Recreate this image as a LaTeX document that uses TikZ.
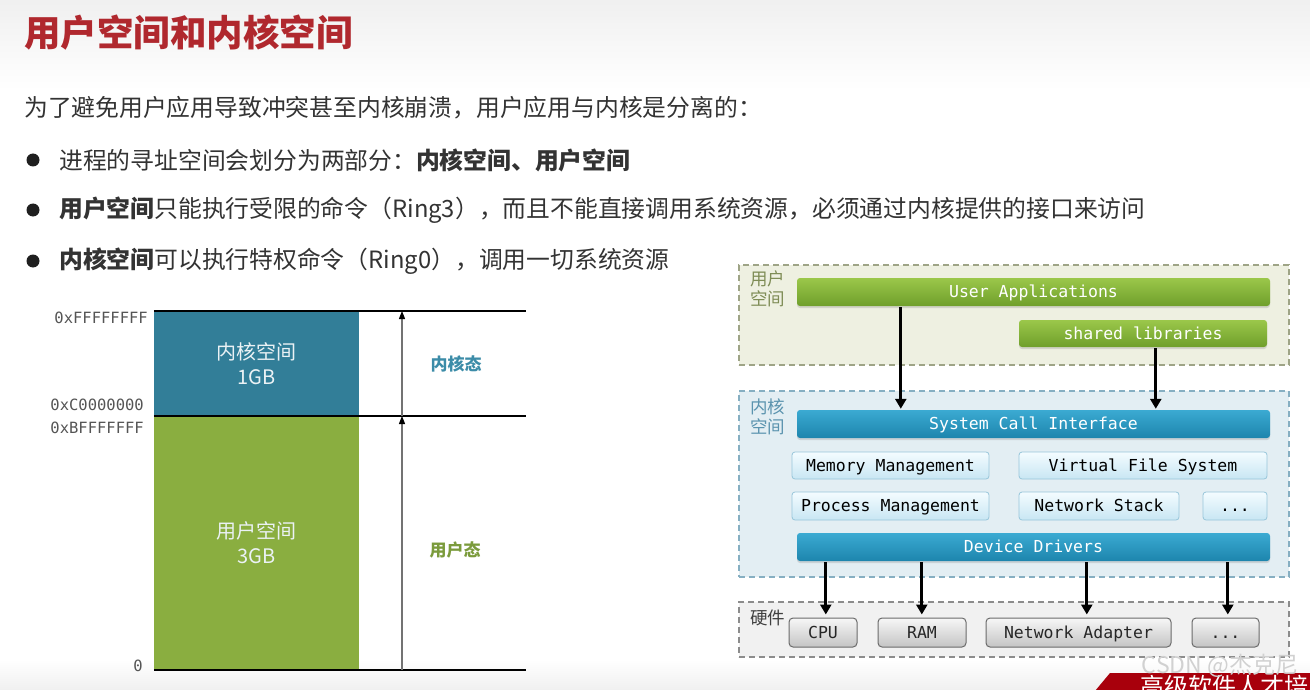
\documentclass[tikz,border=0pt]{standalone}
\usepackage{fontspec}
\setmainfont{Noto Sans CJK SC}
\newfontfamily\monof{DejaVu Sans Mono}
\usetikzlibrary{arrows.meta,shadows}
\definecolor{titlered}{HTML}{B0282E}
\definecolor{bodytext}{HTML}{333333}
\definecolor{kcol}{HTML}{327E98}
\definecolor{ucol}{HTML}{8AAE40}
\definecolor{kstatecol}{HTML}{3C8CA8}
\definecolor{ustatecol}{HTML}{7B9B3C}
\definecolor{addrcol}{HTML}{555555}
\definecolor{uregfill}{HTML}{EEF0E1}
\definecolor{uregdraw}{HTML}{9EA486}
\definecolor{kregfill}{HTML}{E3EEF3}
\definecolor{kregdraw}{HTML}{86AFC2}
\definecolor{hregfill}{HTML}{F1F1F1}
\definecolor{hregdraw}{HTML}{8C8C8C}
\definecolor{gtop}{HTML}{9BC74A}
\definecolor{gbot}{HTML}{6F9F2B}
\definecolor{btop}{HTML}{3BAAD2}
\definecolor{bbot}{HTML}{1D85AD}
\definecolor{ltop}{HTML}{F4FCFF}
\definecolor{lbot}{HTML}{C8E6F3}
\definecolor{ldraw}{HTML}{98C6DA}
\definecolor{htop}{HTML}{F7F7F7}
\definecolor{hbot}{HTML}{C4C4C4}
\definecolor{hdraw}{HTML}{6B6B6B}
\definecolor{ulabcol}{HTML}{7E8C55}
\definecolor{klabcol}{HTML}{5A93AE}
\definecolor{bannerred}{HTML}{A8000C}
\begin{document}
\begin{tikzpicture}[x=1pt,y=-1pt,
  bodyfont/.style={font=\fontsize{23.8}{28}\selectfont, text=bodytext, anchor=west, inner sep=0pt},
  bulletdot/.style={circle, fill=black!88, minimum size=13pt, inner sep=0pt},
  memblock/.style={draw=none, inner sep=0pt, align=center, text=white!90!kcol,
    font=\fontsize{20}{25}\selectfont},
  addr/.style={font=\monof\fontsize{15.5}{18}\selectfont, text=addrcol, anchor=east, inner sep=0pt},
  sepline/.style={line width=2pt, black},
  garr/.style={draw=black!55, line width=1.3pt, -{Triangle[length=8pt,width=6pt,color=black]}},
  region/.style={dash pattern=on 6pt off 4pt, line width=1.2pt, inner sep=0pt},
  reglab/.style={font=\fontsize{17.5}{20}\selectfont, align=left, inner sep=0pt},
  monotext/.style={font=\monof\fontsize{16.5}{20}\selectfont, text height=13pt, text depth=2pt, inner sep=0pt},
  greenbar/.style={monotext, rounded corners=3pt, top color=gtop, bottom color=gbot, text=white,
    drop shadow={shadow xshift=0pt, shadow yshift=-2pt, opacity=0.25}},
  bluebar/.style={monotext, rounded corners=3pt, top color=btop, bottom color=bbot, text=white,
    drop shadow={shadow xshift=0pt, shadow yshift=-2pt, opacity=0.25}},
  lightbox/.style={monotext, rounded corners=3pt, top color=ltop, bottom color=lbot, draw=ldraw, line width=0.8pt, text=black},
  hwbox/.style={monotext, rounded corners=4pt, top color=htop, bottom color=hbot, draw=hdraw, line width=1pt, text=black!85},
  karr/.style={line width=3pt, black, -{Triangle[length=10pt,width=11pt]}, shorten >=1pt}
]
\clip (0,0) rectangle (1310,690);
% background
\fill[white] (0,0) rectangle (1310,690);
\shade[top color=black!6, bottom color=white] (0,0) rectangle (1310,90);
\shade[top color=white, bottom color=black!6] (0,660) rectangle (1310,690);

% title
\node[anchor=west, inner sep=0pt, text=titlered, font=\bfseries\fontsize{36.5}{40}\selectfont] (title) at (24,33) {用户空间和内核空间};

% body text
\node[bodyfont] (intro) at (24,108) {为了避免用户应用导致冲突甚至内核崩溃，用户应用与内核是分离的：};
\node[bulletdot] (b1) at (33,160) {};
\node[bodyfont] (t1) at (59,160) {进程的寻址空间会划分为两部分：\textbf{内核空间、用户空间}};
\node[bulletdot] (b2) at (33,210) {};
\node[bodyfont] (t2) at (59,210) {\textbf{用户空间}只能执行受限的命令（Ring3），而且不能直接调用系统资源，必须通过内核提供的接口来访问};
\node[bulletdot] (b3) at (33,261) {};
\node[bodyfont] (t3) at (59,261) {\textbf{内核空间}可以执行特权命令（Ring0），调用一切系统资源};

% left memory diagram
\node[memblock, fill=kcol, minimum width=205pt, minimum height=105pt] (kern) at (256.5,363.5) {内核空间\\1GB};
\node[memblock, fill=ucol, minimum width=205pt, minimum height=254pt] (user) at (256.5,543) {用户空间\\3GB};
\draw[sepline] (kern.north west) -- ++(372,0) coordinate (topR);
\draw[sepline] (kern.south west) -- ++(372,0) coordinate (midR);
\draw[sepline] (user.south west) -- ++(372,0) coordinate (botR);
\coordinate (ktop) at (402,311);
\coordinate (kmid) at (402,416);
\coordinate (kbot) at (402,670);
\draw[garr] (kmid) -- (ktop);
\draw[garr] (kbot) -- (kmid);
\node[font=\bfseries\fontsize{17}{20}\selectfont, text=kstatecol, inner sep=0pt] (kstate) at (456,364) {内核态};
\node[font=\bfseries\fontsize{17}{20}\selectfont, text=ustatecol, inner sep=0pt] (ustate) at (455,550) {用户态};
\node[addr] (a1) at (148,318) {0xFFFFFFFF};
\node[addr] (a2) at (144,405) {0xC0000000};
\node[addr] (a3) at (144,428) {0xBFFFFFFF};
\node[addr] (a4) at (143,666) {0};

% right: regions
\node[region, fill=uregfill, draw=uregdraw, minimum width=550pt, minimum height=100pt] (ureg) at (1014,315) {};
\node[region, fill=kregfill, draw=kregdraw, minimum width=550pt, minimum height=186pt] (kreg) at (1014,484) {};
\node[region, fill=hregfill, draw=hregdraw, minimum width=550pt, minimum height=55pt] (hreg) at (1014,629.5) {};
\node[reglab, text=ulabcol, anchor=north west] (ulab) at (750,271) {用户\\空间};
\node[reglab, text=klabcol, anchor=north west] (klab) at (750,399) {内核\\空间};
\node[reglab, text=black!75, anchor=west] (hlab) at (750,618) {硬件};

% user space bars
\node[greenbar, minimum width=473pt, minimum height=28pt] (UA) at (1033.5,292) {User Applications};
\node[greenbar, minimum width=248pt, minimum height=27pt] (SL) at (1143,333.5) {shared libraries};

% kernel
\node[bluebar, minimum width=473pt, minimum height=28pt] (SCI) at (1033.5,424) {System Call Interface};
\node[lightbox, minimum width=197pt, minimum height=27pt] (MM) at (890.5,465.5) {Memory Management};
\node[lightbox, minimum width=248pt, minimum height=27pt] (VFS) at (1143,465.5) {Virtual File System};
\node[lightbox, minimum width=197pt, minimum height=28pt] (PM) at (890.5,506) {Process Management};
\node[lightbox, minimum width=160pt, minimum height=28pt] (NS) at (1099,506) {Network Stack};
\node[lightbox, minimum width=64pt, minimum height=28pt] (KD) at (1235,506) {...};
\node[bluebar, minimum width=473pt, minimum height=28pt] (DD) at (1033.5,547) {Device Drivers};

% hardware
\node[hwbox, minimum width=68pt, minimum height=29pt] (CPU) at (823,632.5) {CPU};
\node[hwbox, minimum width=88pt, minimum height=29pt] (RAM) at (922,632.5) {RAM};
\node[hwbox, minimum width=185pt, minimum height=29pt] (NA) at (1078.5,632.5) {Network Adapter};
\node[hwbox, minimum width=67pt, minimum height=29pt] (HD) at (1225.5,632.5) {...};

% arrows
\draw[karr] ([xshift=104pt,yshift=-1pt]UA.south west) coordinate (s1) -- (SCI.north west -| s1);
\draw[karr] ([xshift=137pt,yshift=-1pt]SL.south west) coordinate (s2) -- (SCI.north west -| s2);
\draw[karr] ([xshift=29pt,yshift=-1pt]DD.south west) coordinate (d1) -- ([yshift=2pt]CPU.north -| d1);
\draw[karr] ([xshift=125pt,yshift=-1pt]DD.south west) coordinate (d2) -- ([yshift=2pt]RAM.north -| d2);
\draw[karr] ([xshift=290pt,yshift=-1pt]DD.south west) coordinate (d3) -- ([yshift=2pt]NA.north -| d3);
\draw[karr] ([xshift=431pt,yshift=-1pt]DD.south west) coordinate (d4) -- ([yshift=2pt]HD.north -| d4);

% watermark and banner
\fill[bannerred] (1095,691) -- (1110,673) -- (1311,673) -- (1311,691) -- cycle;
\node[anchor=north west, inner sep=0pt, text=white, font=\fontsize{24}{28}\selectfont] (banner) at (1140,675) {高级软件人才培};
\node[inner sep=0pt, text=black!18, font=\fontsize{23}{26}\selectfont] (wm) at (1220,666) {CSDN @杰克尼};
\end{tikzpicture}
\end{document}
